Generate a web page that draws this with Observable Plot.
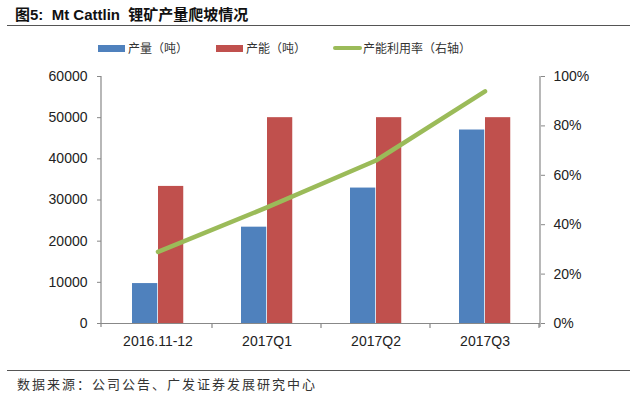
<!DOCTYPE html>
<html>
<head>
<meta charset="utf-8">
<script src="https://cdn.jsdelivr.net/npm/d3@7"></script>
<script src="https://cdn.jsdelivr.net/npm/@observablehq/plot@0.6"></script>
<style>
  body { margin: 0; background: #fff; }
  #wrap { position: relative; width: 640px; height: 398px; overflow: hidden; background: #fff;
          font-family: "Liberation Sans", "Noto Sans CJK SC", sans-serif; }
  #title { position: absolute; left: 15px; top: 4px; font-size: 15px; font-weight: bold; color: #111;
           white-space: nowrap; line-height: 19px; }
  #title .cn { font-family: "Noto Sans CJK SC", sans-serif; }
  .rule { position: absolute; left: 7px; width: 623px; height: 0; border-top: 1.5px solid #555; }
  .sw { position: absolute; }
  .lt { position: absolute; top: 40px; line-height: 16px; font-size: 12px; color: #333;
        font-family: "Noto Sans CJK SC", sans-serif; white-space: nowrap; }
  #chart { position: absolute; left: 0; top: 64px; }
  #source { position: absolute; left: 17px; top: 375px; line-height: 18px; font-size: 13px; letter-spacing: 2px;
            color: #333; font-family: "Noto Sans CJK SC", sans-serif; white-space: nowrap; }
</style>
</head>
<body>
<div id="wrap">
  <div id="title">图5:&nbsp; Mt Cattlin&nbsp; <span class="cn">锂矿产量爬坡情况</span></div>
  <div class="rule" style="top:25px"></div>
  <div class="sw" style="left:98px;top:45px;width:27px;height:7px;background:#4F81BD"></div>
  <div class="lt" style="left:128px">产量（吨）</div>
  <div class="sw" style="left:216px;top:45px;width:27px;height:7px;background:#C0504D"></div>
  <div class="lt" style="left:246px">产能（吨）</div>
  <div class="sw" style="left:333px;top:46px;width:29px;height:4px;background:#9BBB59;border-radius:2px"></div>
  <div class="lt" style="left:363px">产能利用率（右轴）</div>
  <div id="chart"></div>
  <div class="rule" style="top:370px"></div>
  <div id="source">数据来源：公司公告、广发证券发展研究中心</div>
</div>
<script>
// ---- data ----
const categories = ["2016.11-12", "2017Q1", "2017Q2", "2017Q3"];
const output = [9700, 23400, 32900, 47000];          // 产量（吨）
const capacity = [33300, 50000, 50000, 50000];       // 产能（吨）
const utilization = [0.29, 0.47, 0.66, 0.94];        // 产能利用率（右轴）
const leftTicks = [0, 10000, 20000, 30000, 40000, 50000, 60000];
const rightTicks = [0, 0.2, 0.4, 0.6, 0.8, 1.0];
const leftMax = 60000;   // left axis max, corresponds to 100% on right axis
const rightMax = 1.0;

const rows = categories.map((c, i) => ({
  category: c, output: output[i], capacity: capacity[i], rate: utilization[i]
}));

const axisColor = "#888";
const textColor = "#222";

// axis lines and band separator ticks, derived from the scales/dimensions
function frameAndSeparators(index, scales, values, dimensions) {
  const x = scales.x;
  const bw = typeof x.bandwidth === "function" ? x.bandwidth() : x.bandwidth;
  const {width, height, marginLeft, marginRight, marginTop, marginBottom} = dimensions;
  const y0 = height - marginBottom;
  const g = d3.create("svg:g").attr("stroke", axisColor).attr("stroke-width", 1.2).attr("fill", "none");
  g.append("line").attr("x1", marginLeft).attr("x2", marginLeft).attr("y1", marginTop).attr("y2", y0 + 4);
  g.append("line").attr("x1", width - marginRight).attr("x2", width - marginRight).attr("y1", marginTop).attr("y2", y0 + 4);
  const bounds = categories.map(c => x(c) + bw);
  for (const b of bounds) {
    g.append("line").attr("x1", b).attr("x2", b).attr("y1", y0).attr("y2", y0 + 5);
  }
  return g.node();
}

const chart = Plot.plot({
  width: 640,
  height: 290,
  marginTop: 12,
  marginBottom: 31,
  marginLeft: 101,
  marginRight: 100,
  style: { fontFamily: "'Liberation Sans', Arial, sans-serif", fontSize: "14px", background: "white", overflow: "visible" },
  x: { type: "band", domain: categories, padding: 0, label: null },
  y: { domain: [0, leftMax], label: null },
  marks: [
    Plot.barY(rows, { x: "category", y: "output", fill: "#4F81BD", insetLeft: 29, insetRight: 54.75 }),
    Plot.barY(rows, { x: "category", y: "capacity", fill: "#C0504D", insetLeft: 55, insetRight: 28.75 }),
    Plot.line(rows, { x: "category", y: d => d.rate / rightMax * leftMax, stroke: "#9BBB59",
                      strokeWidth: 4.5, strokeLinecap: "round", strokeLinejoin: "round" }),
    Plot.ruleY([0], { stroke: axisColor, strokeWidth: 1.2 }),
    frameAndSeparators,
    Plot.axisY(leftTicks, { anchor: "left", tickSize: 4, tickPadding: 10, stroke: axisColor, fill: textColor,
                            fontSize: 14, tickFormat: d => String(d), label: null }),
    Plot.axisY(rightTicks.map(p => p / rightMax * leftMax), { anchor: "right", tickSize: 4, tickPadding: 9,
                            stroke: axisColor, fill: textColor, fontSize: 14,
                            tickFormat: d => Math.round(d / leftMax * 100) + "%", label: null }),
    Plot.axisX({ tickSize: 0, tickPadding: 13, fill: textColor, fontSize: 14, label: null })
  ]
});
document.getElementById("chart").appendChild(chart);
</script>
</body>
</html>
